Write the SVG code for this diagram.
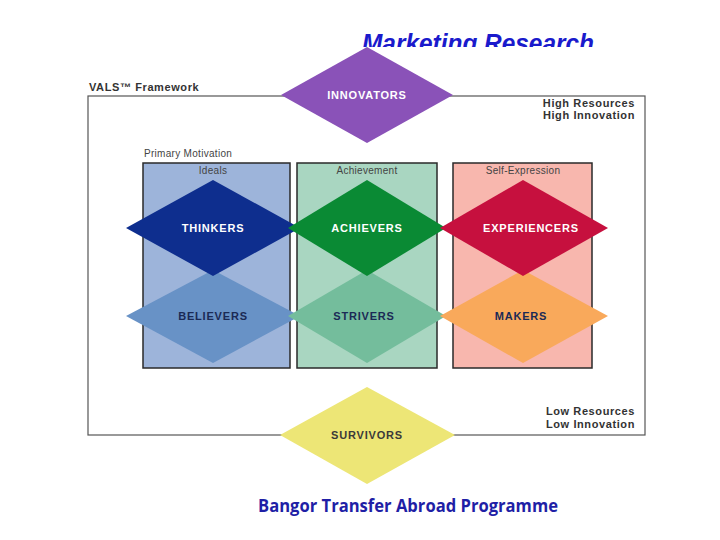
<svg xmlns="http://www.w3.org/2000/svg" width="720" height="540" viewBox="0 0 720 540">
<defs>
<clipPath id="titleClip"><rect x="0" y="0" width="720" height="47"/></clipPath>
<style>
.lbl{font-family:"Liberation Sans",Arial,sans-serif;font-weight:bold;font-size:11px;fill:#333;letter-spacing:0.6px}
.small{font-family:"Liberation Sans",Arial,sans-serif;font-size:10px;fill:#444;letter-spacing:0.3px}
.dtext{font-family:"Liberation Sans",Arial,sans-serif;font-weight:bold;font-size:11px;text-anchor:middle;letter-spacing:0.8px}
.col{stroke:#2a2a2a;stroke-width:1.5}
</style>
</defs>
<rect width="720" height="540" fill="#ffffff"/>
<text x="478" y="52" clip-path="url(#titleClip)" font-family="Liberation Sans,Arial,sans-serif" font-size="25" font-weight="bold" font-style="italic" fill="#1a1acc" text-anchor="middle" textLength="232" lengthAdjust="spacingAndGlyphs">Marketing Research</text>

<g id="frame">
<rect x="88" y="96" width="557" height="339" fill="#ffffff" stroke="#555" stroke-width="1.2"/>
<text class="lbl" x="89" y="91">VALS™ Framework</text>
<text class="lbl" x="635" y="107" text-anchor="end">High Resources</text>
<text class="lbl" x="635" y="119" text-anchor="end">High Innovation</text>
<text class="lbl" x="635" y="415" text-anchor="end">Low Resources</text>
<text class="lbl" x="635" y="428" text-anchor="end">Low Innovation</text>
<text class="small" x="144" y="157">Primary Motivation</text>
</g>

<g id="columns">
<rect class="col" x="143" y="163" width="147" height="205" fill="#9db4da"/>
<rect class="col" x="297" y="163" width="140" height="205" fill="#a9d6c1"/>
<rect class="col" x="453" y="163" width="139" height="205" fill="#f8b7ae"/>
<text class="small" x="213" y="174" text-anchor="middle">Ideals</text>
<text class="small" x="367" y="174" text-anchor="middle">Achievement</text>
<text class="small" x="523" y="174" text-anchor="middle">Self-Expression</text>
</g>

<g id="innovators">
<polygon points="367,47 453,95 367,143 281,95" fill="#8a52b8"/>
<text class="dtext" x="367" y="99" fill="#ffffff">INNOVATORS</text>
</g>
<g id="believers">
<polygon points="213,270 300,316 213,363 126,316" fill="#6892c6"/>
<text class="dtext" x="213" y="320" fill="#1b2a55">BELIEVERS</text>
</g>
<g id="strivers">
<polygon points="367,270 446,316 367,363 288,316" fill="#74bd9c"/>
<text class="dtext" x="364" y="320" fill="#1b2a55">STRIVERS</text>
</g>
<g id="makers">
<polygon points="523,270 608,316 523,363 440,316" fill="#f9a95b"/>
<text class="dtext" x="521" y="320" fill="#1b2a55">MAKERS</text>
</g>
<g id="thinkers">
<polygon points="213,180 300,228 213,276 126,228" fill="#0e2e8e"/>
<text class="dtext" x="213" y="232" fill="#ffffff">THINKERS</text>
</g>
<g id="achievers">
<polygon points="367,180 446,228 367,276 288,228" fill="#0a8a34"/>
<text class="dtext" x="367" y="232" fill="#ffffff">ACHIEVERS</text>
</g>
<g id="experiencers">
<polygon points="523,180 608,228 523,276 440,228" fill="#c6103e"/>
<text class="dtext" x="531" y="232" fill="#ffffff">EXPERIENCERS</text>
</g>
<g id="survivors">
<polygon points="367,387 455,435 367,484 280,435" fill="#ede676"/>
<text class="dtext" x="367" y="439" fill="#3a3a3a">SURVIVORS</text>
</g>
<g id="connectors"></g>

<text x="408" y="512" font-family="Open Sans,Liberation Sans,sans-serif" font-size="17" font-weight="bold" fill="#1f1fa6" text-anchor="middle" textLength="300" lengthAdjust="spacingAndGlyphs">Bangor Transfer Abroad Programme</text>
</svg>
